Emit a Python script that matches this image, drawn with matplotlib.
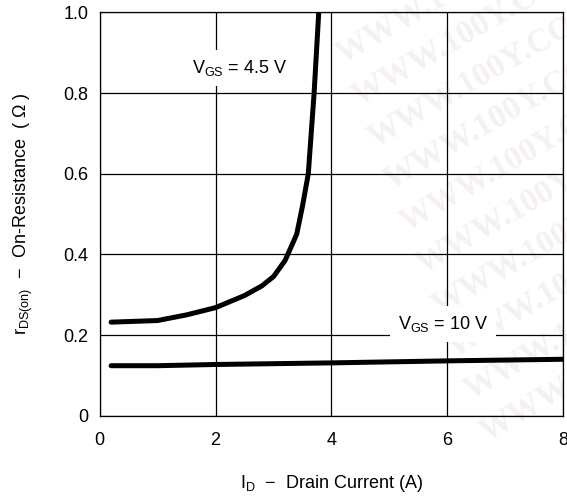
import matplotlib

matplotlib.use("Agg")
import matplotlib.pyplot as plt

plt.rcParams["font.family"] = ["Liberation Sans", "DejaVu Sans"]
plt.rcParams["mathtext.fontset"] = "custom"
plt.rcParams["mathtext.rm"] = "Liberation Sans"

# r_DS(on) vs I_D
id_45v = [0.2, 1.0, 1.5, 2.0, 2.5, 2.8, 3.0, 3.2, 3.4, 3.5, 3.6, 3.7, 3.78]
rds_45v = [0.232, 0.236, 0.250, 0.268, 0.298, 0.322, 0.345, 0.385, 0.45, 0.52, 0.60, 0.80, 1.0]

id_10v = [0.2, 1.0, 2.0, 4.0, 6.0, 8.0]
rds_10v = [0.124, 0.124, 0.127, 0.131, 0.136, 0.140]

x_ticks = [0, 2, 4, 6, 8]
x_ticklabels = ["0", "2", "4", "6", "8"]
y_ticks = [0, 0.2, 0.4, 0.6, 0.8, 1.0]
y_ticklabels = ["0", "0.2", "0.4", "0.6", "0.8", "1.0"]

fig = plt.figure(figsize=(5.67, 4.96), dpi=100)
ax = fig.add_axes([0.1755, 0.1619, 0.8183, 0.8129])
ax.patch.set_alpha(0)

# very faint watermark behind everything
for k in range(10):
    fig.text(
        (330 + 16 * k) / 567, 1 - (70 + 42 * k) / 496, "WWW.100Y.COM",
        fontsize=24, fontweight="bold", family="Liberation Serif",
        color="#f6f1f1", rotation=30, ha="left", va="bottom", zorder=-1,
    )

ax.plot(id_45v, rds_45v, color="black", lw=3.6, solid_capstyle="round", zorder=3)
ax.plot(id_10v, rds_10v, color="black", lw=3.6, solid_capstyle="round", zorder=3)

ax.set_xlim(0, 8)
ax.set_ylim(0, 1.0)
ax.set_xticks(x_ticks)
ax.set_xticklabels(x_ticklabels)
ax.set_yticks(y_ticks)
ax.set_yticklabels(y_ticklabels)
ax.tick_params(length=0, labelsize=13)
ax.tick_params(axis="x", pad=12)
ax.tick_params(axis="y", pad=8)
ax.grid(True, color="black", lw=0.9)
for s in ax.spines.values():
    s.set_linewidth(0.9)

box = dict(boxstyle="square,pad=0.45", fc="white", ec="none")
ax.text(2.42, 0.862, r"V$_{\mathregular{GS}}$ = 4.5 V", fontsize=13,
        ha="center", va="center", bbox=box, zorder=4)
ax.text(5.92, 0.228, r"V$_{\mathregular{GS}}$ = 10 V", fontsize=13,
        ha="center", va="center", bbox=box, zorder=4)

ax.set_xlabel(r"I$_{\mathregular{D}}$  $-$  Drain Current (A)", fontsize=13, labelpad=17)
ax.set_ylabel(r"r$_{\mathregular{DS(on)}}$  $-$  On-Resistance  ( $\Omega$ )", fontsize=13, labelpad=20)

fig.savefig("out.png", dpi=100)
